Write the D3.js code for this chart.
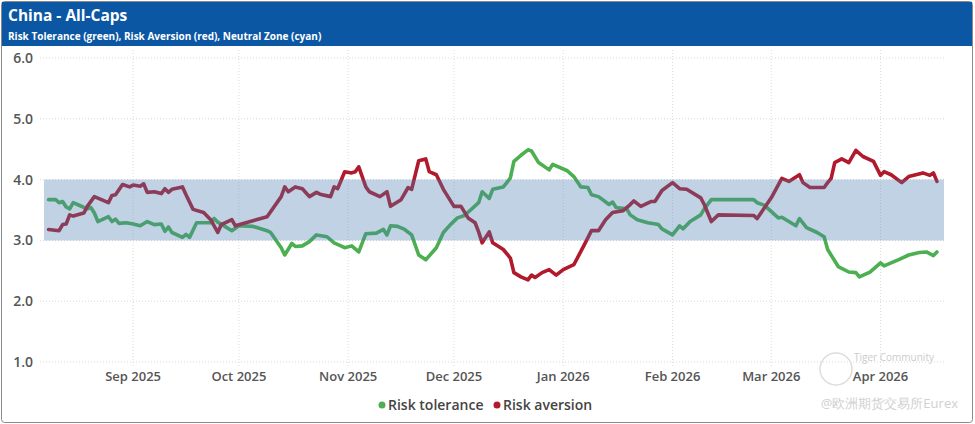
<!DOCTYPE html>
<html>
<head>
<meta charset="utf-8">
<script src="https://cdn.jsdelivr.net/npm/d3@7"></script>
<style>
  body { margin: 0; background: #fff; }
  text { font-family: "Open Sans", sans-serif; }
</style>
</head>
<body>
<svg width="975" height="424"></svg>
<script>
// risk tolerance (green)
var toleranceDates = ["2025-08-08","2025-08-10","2025-08-11","2025-08-12","2025-08-13","2025-08-14","2025-08-15","2025-08-17","2025-08-19","2025-08-20",
  "2025-08-21","2025-08-22","2025-08-25","2025-08-26","2025-08-27","2025-08-28","2025-08-30","2025-09-01","2025-09-03","2025-09-05",
  "2025-09-07","2025-09-09","2025-09-10","2025-09-11","2025-09-12","2025-09-15","2025-09-16","2025-09-17","2025-09-19","2025-09-23",
  "2025-09-24","2025-09-25","2025-09-27","2025-09-29","2025-10-01","2025-10-05","2025-10-09","2025-10-10","2025-10-13","2025-10-14",
  "2025-10-16","2025-10-17","2025-10-19","2025-10-21","2025-10-23","2025-10-26","2025-10-28","2025-10-31","2025-11-02","2025-11-04",
  "2025-11-06","2025-11-09","2025-11-11","2025-11-12","2025-11-13","2025-11-15","2025-11-17","2025-11-19","2025-11-21","2025-11-23",
  "2025-11-26","2025-11-28","2025-11-30","2025-12-02","2025-12-04","2025-12-08","2025-12-09","2025-12-11","2025-12-12","2025-12-15",
  "2025-12-16","2025-12-17","2025-12-18","2025-12-20","2025-12-22","2025-12-23","2025-12-25","2025-12-28","2025-12-29","2026-01-02",
  "2026-01-04","2026-01-06","2026-01-08","2026-01-09","2026-01-11","2026-01-14","2026-01-15","2026-01-16","2026-01-19","2026-01-20",
  "2026-01-22","2026-01-25","2026-01-28","2026-01-29","2026-02-01","2026-02-03","2026-02-04","2026-02-06","2026-02-09","2026-02-10",
  "2026-02-12","2026-02-24","2026-02-25","2026-02-27","2026-03-03","2026-03-04","2026-03-08","2026-03-09","2026-03-11","2026-03-14",
  "2026-03-16","2026-03-17","2026-03-20","2026-03-23","2026-03-25","2026-03-26","2026-03-29","2026-04-01","2026-04-02","2026-04-06",
  "2026-04-09","2026-04-12","2026-04-14","2026-04-16","2026-04-17"];
var toleranceValues = [3.67,3.67,3.62,3.64,3.55,3.52,3.62,3.57,3.52,3.54,
  3.45,3.31,3.39,3.31,3.35,3.28,3.29,3.27,3.24,3.31,
  3.26,3.27,3.15,3.22,3.13,3.05,3.10,3.05,3.29,3.29,
  3.36,3.30,3.23,3.16,3.24,3.23,3.16,3.13,2.88,2.76,
  2.95,2.90,2.91,2.98,3.09,3.06,2.96,2.88,2.91,2.81,
  3.11,3.12,3.18,3.09,3.24,3.23,3.18,3.09,2.76,2.68,
  2.88,3.13,3.26,3.37,3.41,3.62,3.80,3.69,3.84,3.88,
  3.95,4.03,4.30,4.40,4.49,4.47,4.28,4.16,4.25,4.15,
  4.05,3.88,3.87,3.75,3.72,3.59,3.63,3.54,3.52,3.42,
  3.34,3.29,3.26,3.19,3.09,3.24,3.19,3.31,3.42,3.52,
  3.67,3.67,3.62,3.58,3.37,3.38,3.24,3.36,3.21,3.13,
  3.06,2.85,2.57,2.48,2.47,2.40,2.48,2.63,2.58,2.68,
  2.76,2.80,2.81,2.75,2.81];

// risk aversion (red)
var aversionDates = ["2025-08-08","2025-08-11","2025-08-12","2025-08-13","2025-08-14","2025-08-15","2025-08-18","2025-08-19","2025-08-21","2025-08-25",
  "2025-08-26","2025-08-27","2025-08-29","2025-08-31","2025-09-01","2025-09-03","2025-09-04","2025-09-05","2025-09-07","2025-09-09",
  "2025-09-10","2025-09-11","2025-09-12","2025-09-15","2025-09-16","2025-09-18","2025-09-21","2025-09-23","2025-09-25","2025-09-26",
  "2025-09-29","2025-09-30","2025-10-09","2025-10-13","2025-10-14","2025-10-15","2025-10-17","2025-10-19","2025-10-21","2025-10-23",
  "2025-10-24","2025-10-27","2025-10-28","2025-10-29","2025-10-31","2025-11-02","2025-11-03","2025-11-04","2025-11-06","2025-11-07",
  "2025-11-10","2025-11-12","2025-11-13","2025-11-16","2025-11-18","2025-11-19","2025-11-21","2025-11-23","2025-11-24","2025-11-26",
  "2025-11-28","2025-12-01","2025-12-03","2025-12-05","2025-12-07","2025-12-08","2025-12-09","2025-12-11","2025-12-12","2025-12-15",
  "2025-12-17","2025-12-18","2025-12-20","2025-12-22","2025-12-23","2025-12-24","2025-12-26","2025-12-28","2025-12-30","2026-01-01",
  "2026-01-04","2026-01-07","2026-01-09","2026-01-11","2026-01-13","2026-01-15","2026-01-18","2026-01-20","2026-01-21","2026-01-23",
  "2026-01-26","2026-01-27","2026-01-29","2026-02-01","2026-02-03","2026-02-05","2026-02-09","2026-02-10","2026-02-12","2026-02-14",
  "2026-02-24","2026-02-25","2026-03-01","2026-03-04","2026-03-06","2026-03-09","2026-03-10","2026-03-12","2026-03-16","2026-03-17",
  "2026-03-18","2026-03-19","2026-03-21","2026-03-23","2026-03-25","2026-03-27","2026-03-30","2026-04-01","2026-04-02","2026-04-04",
  "2026-04-07","2026-04-09","2026-04-13","2026-04-15","2026-04-16","2026-04-17"];
var aversionValues = [3.18,3.16,3.26,3.27,3.42,3.40,3.45,3.56,3.72,3.62,
  3.74,3.75,3.92,3.88,3.91,3.89,3.93,3.79,3.80,3.77,
  3.85,3.79,3.84,3.88,3.75,3.51,3.46,3.34,3.13,3.26,
  3.34,3.24,3.39,3.72,3.88,3.80,3.88,3.85,3.72,3.79,
  3.76,3.72,3.88,3.85,4.13,4.11,4.13,4.21,3.88,3.80,
  3.72,3.80,3.56,3.67,3.87,3.84,4.31,4.34,4.13,4.08,
  3.84,3.56,3.56,3.37,3.29,3.14,2.96,3.14,2.96,2.85,
  2.71,2.47,2.40,2.35,2.43,2.39,2.47,2.52,2.43,2.52,
  2.60,2.93,3.16,3.16,3.34,3.46,3.49,3.59,3.65,3.56,
  3.64,3.64,3.82,3.95,3.85,3.84,3.70,3.59,3.31,3.42,
  3.41,3.36,3.70,4.02,3.97,4.08,3.95,3.87,3.87,3.95,
  4.02,4.28,4.34,4.28,4.48,4.38,4.30,4.07,4.13,4.08,
  3.95,4.05,4.11,4.07,4.11,3.97];

var neutralZone = [3, 4];
var yTicks = [1, 2, 3, 4, 5, 6];
var monthTicks = ["2025-09-01","2025-10-01","2025-11-01","2025-12-01","2026-01-01","2026-02-01","2026-03-01","2026-04-01"];
var seriesNames = ["Risk tolerance", "Risk aversion"];
var seriesColors = ["#4caf50", "#b01a2c"];

var svg = d3.select("svg"),
    width = +svg.attr("width"),
    height = +svg.attr("height");

var parse = d3.timeParse("%Y-%m-%d");

var x = d3.scaleTime()
    .domain([parse("2025-08-07"), parse("2026-04-19")])
    .range([45, 944]);
var y = d3.scaleLinear().domain([1, 6]).range([362, 58]);

// frame + header
svg.append("rect")
    .attr("x", 1.5).attr("y", 1.5)
    .attr("width", width - 4).attr("height", height - 3)
    .attr("rx", 3)
    .attr("fill", "#fff")
    .attr("stroke", "#8a8a8a");

svg.append("rect")
    .attr("x", 2).attr("y", 2)
    .attr("width", width - 5).attr("height", 44)
    .attr("fill", "#0b57a4");

svg.append("text")
    .attr("x", 8).attr("y", 21)
    .attr("fill", "#fff")
    .attr("font-size", 15.5)
    .attr("font-weight", 700)
    .text("China - All-Caps");

svg.append("text")
    .attr("x", 8).attr("y", 40)
    .attr("fill", "#fff")
    .attr("font-size", 10)
    .attr("font-weight", 700)
    .text("Risk Tolerance (green), Risk Aversion (red), Neutral Zone (cyan)");

// grid
svg.append("g").selectAll("line")
    .data(yTicks)
  .enter().append("line")
    .attr("x1", 40).attr("x2", 944)
    .attr("y1", function(d) { return y(d); })
    .attr("y2", function(d) { return y(d); })
    .attr("stroke", "#d9d9d9")
    .attr("stroke-dasharray", "1,2");

svg.append("g").selectAll("line")
    .data(monthTicks)
  .enter().append("line")
    .attr("x1", function(d) { return x(parse(d)); })
    .attr("x2", function(d) { return x(parse(d)); })
    .attr("y1", 50).attr("y2", 366)
    .attr("stroke", "#dcdcdc")
    .attr("stroke-dasharray", "1,2");

// y labels
svg.append("g").selectAll("text")
    .data(yTicks)
  .enter().append("text")
    .attr("x", 33)
    .attr("y", function(d) { return y(d); })
    .attr("dy", "0.35em")
    .attr("text-anchor", "end")
    .attr("font-size", 14)
    .attr("font-weight", 600)
    .attr("fill", "#555")
    .text(function(d) { return d3.format(".1f")(d); });

// x labels
var fmt = d3.timeFormat("%b %Y");
svg.append("g").selectAll("text")
    .data(monthTicks)
  .enter().append("text")
    .attr("x", function(d) { return x(parse(d)); })
    .attr("y", 381)
    .attr("text-anchor", "middle")
    .attr("font-size", 13)
    .attr("font-weight", 600)
    .attr("fill", "#555")
    .text(function(d) { return fmt(parse(d)); });

// lines
var line = d3.line()
    .x(function(d) { return x(d[0]); })
    .y(function(d) { return y(d[1]); });

var series = [
  d3.zip(toleranceDates.map(parse), toleranceValues),
  d3.zip(aversionDates.map(parse), aversionValues)
];

svg.append("g").selectAll("path")
    .data(series)
  .enter().append("path")
    .attr("d", line)
    .attr("fill", "none")
    .attr("stroke", function(d, i) { return seriesColors[i]; })
    .attr("stroke-width", 3.6)
    .attr("stroke-linejoin", "round")
    .attr("stroke-linecap", "round");

// neutral zone over the lines
svg.append("rect")
    .attr("x", 44)
    .attr("width", 900)
    .attr("y", y(neutralZone[1]))
    .attr("height", y(neutralZone[0]) - y(neutralZone[1]))
    .attr("fill", "#4a7fb0")
    .attr("fill-opacity", 0.35);

// legend
var legend = svg.append("g").attr("transform", "translate(0,405)");
var legendX = [382, 497];
seriesNames.forEach(function(name, i) {
  legend.append("circle")
      .attr("cx", legendX[i]).attr("cy", 0).attr("r", 3.5)
      .attr("fill", seriesColors[i]);
  legend.append("text")
      .attr("x", legendX[i] + 6).attr("y", 0)
      .attr("dy", "0.35em")
      .attr("font-size", 14)
      .attr("font-weight", 600)
      .attr("fill", "#444")
      .text(name);
});

// watermark
svg.append("circle")
    .attr("cx", 836).attr("cy", 369).attr("r", 16)
    .attr("fill", "none").attr("stroke", "#ddd").attr("stroke-width", 1.5);
svg.append("text")
    .attr("x", 854).attr("y", 361)
    .attr("font-size", 10)
    .attr("fill", "#ccc")
    .text("Tiger Community");
svg.append("text")
    .attr("x", 958).attr("y", 408)
    .attr("text-anchor", "end")
    .attr("font-size", 13)
    .attr("fill", "#d0d0d0")
    .text("@欧洲期货交易所Eurex");
</script>
</body>
</html>
